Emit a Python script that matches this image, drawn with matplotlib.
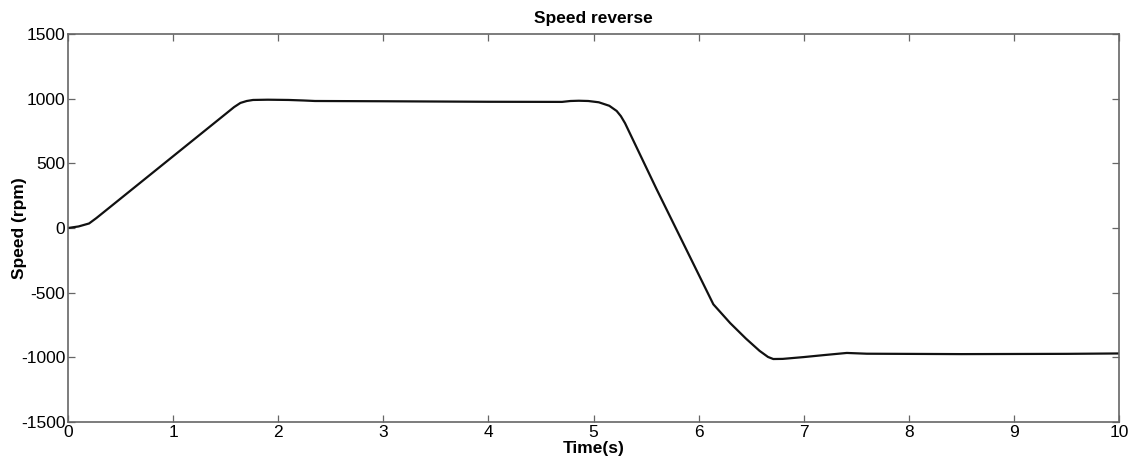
import matplotlib
matplotlib.use("Agg")
import matplotlib.pyplot as plt

time_s = [0.0, 0.10, 0.20, 0.27, 0.40, 0.80, 1.20, 1.51, 1.58, 1.64, 1.70, 1.76, 1.90, 2.10, 2.24,
          2.35, 3.00, 4.00, 4.70, 4.78, 4.86, 4.95, 5.05, 5.15, 5.22, 5.26, 5.30, 5.60, 6.14,
          6.30, 6.45, 6.58, 6.66, 6.71, 6.80, 7.00, 7.20, 7.41, 7.60, 8.50, 9.50, 10.0]
speed_rpm = [0, 12, 35, 77, 162, 424, 686, 889, 935, 967, 982, 990, 992, 990, 986,
             982, 980, 976, 975, 982, 984, 982, 972, 945, 905, 865, 810, 300, -590,
             -735, -855, -950, -997, -1013, -1012, -998, -982, -966, -972, -975, -973, -970]

x_ticks = [0, 1, 2, 3, 4, 5, 6, 7, 8, 9, 10]
y_ticks = [-1500, -1000, -500, 0, 500, 1000, 1500]

plt.rcParams['font.family'] = ['Liberation Sans', 'DejaVu Sans']
plt.rcParams['axes.unicode_minus'] = False

fig = plt.figure(figsize=(11.34, 4.69), dpi=100)
ax = fig.add_axes([0.06, 0.1002, 0.9268, 0.8273])
ax.plot(time_s, speed_rpm, color='#111111', linewidth=1.6)

ax.set_xlim(0, 10)
ax.set_ylim(-1500, 1500)
ax.set_xticks(x_ticks)
ax.set_yticks(y_ticks)
ax.tick_params(direction='in', top=True, right=True, length=5, width=0.9,
               color='#666666', labelsize=12.5, pad=2)
for s in ax.spines.values():
    s.set_color('#666666')
    s.set_linewidth(1.2)

ax.set_title('Speed reverse', fontsize=12.5, fontweight='bold', pad=8)
ax.set_xlabel('Time(s)', fontsize=12.5, fontweight='bold', labelpad=1)
ax.set_ylabel('Speed (rpm)', fontsize=12.5, fontweight='bold')
ax.yaxis.set_label_coords(-0.039, 0.5)

fig.savefig('out.png', dpi=100)
